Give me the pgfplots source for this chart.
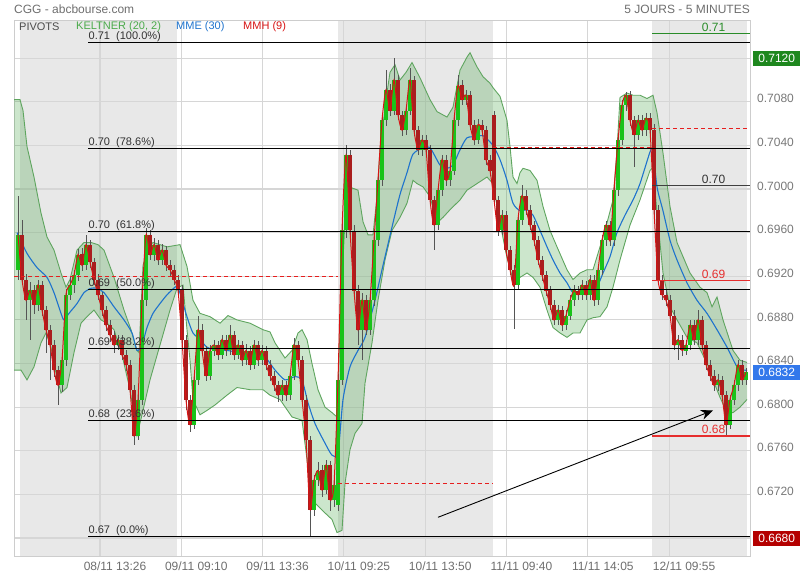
\documentclass[border=0pt]{standalone}
\usepackage{fontspec}
\setmainfont{Liberation Sans}
\usepackage{pgfplots}
\pgfplotsset{compat=1.18}
\usepackage{pgfplotstable}
\usepgfplotslibrary{fillbetween}
\usetikzlibrary{arrows.meta}

\definecolor{daygray}{RGB}{232,232,232}
\definecolor{gridgray}{RGB}{214,214,214}
\definecolor{framec}{RGB}{205,205,205}
\definecolor{kline}{RGB}{95,165,95}
\definecolor{kfill}{RGB}{40,150,40}
\definecolor{emablue}{RGB}{30,115,205}
\definecolor{mmhred}{RGB}{215,20,20}
\definecolor{upgreen}{RGB}{25,195,25}
\definecolor{downred}{RGB}{170,30,30}
\definecolor{wick}{RGB}{85,85,85}
\definecolor{pivred}{RGB}{230,30,30}
\definecolor{txtgray}{RGB}{110,110,110}
\definecolor{ticktxt}{RGB}{120,120,120}
\definecolor{legkel}{RGB}{75,170,75}
\definecolor{boxgreen}{RGB}{30,135,30}
\definecolor{boxblue}{RGB}{50,120,235}
\definecolor{boxred}{RGB}{180,0,0}
\definecolor{fibtxt}{RGB}{50,50,50}
\definecolor{lblgreen}{RGB}{40,140,40}
\definecolor{lblred}{RGB}{230,45,45}

% x = horizontal position of the 5-minute bar on the time axis
\pgfplotstableread{
x o h l c
18 0.6926 0.6994 0.6917 0.6958
22 0.6958 0.6972 0.6912 0.6917
26 0.6917 0.6922 0.6880 0.6898
30 0.6898 0.6915 0.6862 0.6907
34 0.6907 0.6912 0.6885 0.6894
38 0.6894 0.6917 0.6888 0.6912
42 0.6912 0.6916 0.6884 0.6889
46 0.6889 0.6893 0.6850 0.6871
50 0.6871 0.6875 0.6825 0.6857
54 0.6857 0.6862 0.6828 0.6834
58 0.6834 0.6838 0.6802 0.6820
62 0.6820 0.6848 0.6814 0.6843
66 0.6843 0.6908 0.6838 0.6903
70 0.6903 0.6920 0.6898 0.6912
74 0.6912 0.6926 0.6905 0.6921
78 0.6921 0.6945 0.6916 0.6940
82 0.6940 0.6946 0.6925 0.6930
86 0.6930 0.6958 0.6926 0.6949
90 0.6949 0.6953 0.6928 0.6933
94 0.6933 0.6937 0.6912 0.6917
98 0.6917 0.6922 0.6898 0.6903
102 0.6903 0.6906 0.6884 0.6889
106 0.6889 0.6893 0.6870 0.6875
110 0.6875 0.6880 0.6860 0.6866
114 0.6866 0.6870 0.6850 0.6857
118 0.6857 0.6866 0.6852 0.6862
122 0.6862 0.6866 0.6843 0.6848
126 0.6848 0.6852 0.6833 0.6839
130 0.6839 0.6843 0.6810 0.6816
134 0.6816 0.6820 0.6765 0.6774
138 0.6774 0.6812 0.6770 0.6807
142 0.6807 0.6903 0.6802 0.6898
146 0.6898 0.6964 0.6893 0.6958
150 0.6958 0.6962 0.6935 0.6940
154 0.6940 0.6955 0.6934 0.6949
158 0.6949 0.6953 0.6930 0.6935
162 0.6935 0.6950 0.6930 0.6944
166 0.6944 0.6948 0.6925 0.6930
170 0.6930 0.6935 0.6920 0.6926
174 0.6926 0.6930 0.6912 0.6917
178 0.6917 0.6921 0.6902 0.6907
182 0.6907 0.6912 0.6857 0.6862
186 0.6862 0.6866 0.6797 0.6807
190 0.6807 0.6811 0.6777 0.6784
194 0.6784 0.6830 0.6780 0.6825
198 0.6825 0.6884 0.6820 0.6871
202 0.6871 0.6876 0.6848 0.6852
206 0.6852 0.6856 0.6824 0.6829
210 0.6829 0.6857 0.6825 0.6852
214 0.6852 0.6862 0.6847 0.6857
218 0.6857 0.6861 0.6843 0.6848
222 0.6848 0.6866 0.6844 0.6862
226 0.6862 0.6866 0.6847 0.6852
230 0.6852 0.6875 0.6848 0.6866
234 0.6866 0.6870 0.6843 0.6848
238 0.6848 0.6862 0.6844 0.6857
242 0.6857 0.6861 0.6838 0.6843
246 0.6843 0.6858 0.6839 0.6852
250 0.6852 0.6856 0.6834 0.6839
254 0.6839 0.6862 0.6835 0.6857
258 0.6857 0.6861 0.6838 0.6843
262 0.6843 0.6857 0.6839 0.6852
266 0.6852 0.6856 0.6834 0.6839
270 0.6839 0.6843 0.6824 0.6829
274 0.6829 0.6833 0.6815 0.6820
278 0.6820 0.6824 0.6805 0.6811
282 0.6811 0.6825 0.6806 0.6820
286 0.6820 0.6824 0.6806 0.6811
290 0.6811 0.6834 0.6807 0.6829
294 0.6829 0.6863 0.6825 0.6857
298 0.6857 0.6861 0.6838 0.6843
302 0.6843 0.6847 0.6802 0.6807
306 0.6807 0.6811 0.6765 0.6770
310 0.6770 0.6774 0.6682 0.6706
314 0.6706 0.6738 0.6700 0.6733
318 0.6733 0.6750 0.6728 0.6742
322 0.6742 0.6747 0.6718 0.6724
326 0.6724 0.6752 0.6720 0.6747
330 0.6747 0.6751 0.6705 0.6715
334 0.6715 0.6735 0.6708 0.6729
338 0.6710 0.6830 0.6705 0.6825
342 0.6825 0.6975 0.6820 0.6962
346 0.6962 0.7040 0.6955 0.7031
350 0.7031 0.7036 0.6957 0.6962
354 0.6962 0.6967 0.6902 0.6907
358 0.6907 0.6912 0.6857 0.6871
362 0.6871 0.6905 0.6843 0.6898
366 0.6898 0.6903 0.6866 0.6871
370 0.6871 0.6905 0.6866 0.6898
374 0.6898 0.6958 0.6893 0.6953
378 0.6953 0.7013 0.6948 0.7008
382 0.7008 0.7068 0.7003 0.7063
386 0.7063 0.7109 0.7058 0.7091
390 0.7091 0.7096 0.7067 0.7072
394 0.7072 0.7120 0.7068 0.7100
398 0.7100 0.7105 0.7063 0.7068
402 0.7068 0.7072 0.7049 0.7054
406 0.7054 0.7077 0.7050 0.7072
410 0.7072 0.7111 0.7068 0.7100
414 0.7100 0.7104 0.7049 0.7054
418 0.7054 0.7058 0.7031 0.7036
422 0.7036 0.7050 0.7030 0.7045
426 0.7045 0.7050 0.7031 0.7036
430 0.7036 0.7040 0.6985 0.6990
434 0.6990 0.6994 0.6944 0.6967
438 0.6967 0.7004 0.6962 0.6999
442 0.6999 0.7031 0.6994 0.7027
446 0.7027 0.7031 0.7003 0.7008
450 0.7008 0.7022 0.7003 0.7017
454 0.7017 0.7068 0.7013 0.7063
458 0.7063 0.7105 0.7058 0.7095
462 0.7095 0.7100 0.7077 0.7082
466 0.7082 0.7091 0.7077 0.7086
470 0.7086 0.7090 0.7054 0.7059
474 0.7059 0.7063 0.7040 0.7045
478 0.7045 0.7064 0.7041 0.7059
482 0.7059 0.7063 0.7049 0.7054
486 0.7054 0.7058 0.7022 0.7027
490 0.7027 0.7031 0.7012 0.7017
494 0.7068 0.7072 0.6985 0.6990
498 0.6990 0.6994 0.6957 0.6962
502 0.6962 0.6981 0.6958 0.6976
506 0.6976 0.6980 0.6939 0.6944
510 0.6944 0.6948 0.6921 0.6926
514 0.6926 0.6930 0.6872 0.6912
518 0.6912 0.6976 0.6907 0.6972
522 0.6972 0.7004 0.6967 0.6994
526 0.6994 0.6999 0.6976 0.6981
530 0.6981 0.6985 0.6962 0.6967
534 0.6967 0.6971 0.6948 0.6953
538 0.6953 0.6957 0.6930 0.6935
542 0.6935 0.6939 0.6916 0.6921
546 0.6921 0.6925 0.6902 0.6907
550 0.6907 0.6911 0.6889 0.6894
554 0.6894 0.6898 0.6875 0.6880
558 0.6880 0.6894 0.6875 0.6889
562 0.6889 0.6893 0.6870 0.6875
566 0.6875 0.6889 0.6871 0.6884
570 0.6884 0.6903 0.6880 0.6898
574 0.6898 0.6912 0.6893 0.6907
578 0.6907 0.6911 0.6898 0.6903
582 0.6903 0.6917 0.6898 0.6912
586 0.6912 0.6916 0.6898 0.6903
590 0.6903 0.6921 0.6898 0.6917
594 0.6917 0.6921 0.6893 0.6898
598 0.6898 0.6930 0.6894 0.6926
602 0.6926 0.6958 0.6921 0.6953
606 0.6953 0.6971 0.6948 0.6967
610 0.6967 0.6971 0.6948 0.6953
614 0.6953 0.7004 0.6948 0.6999
618 0.6999 0.7050 0.6994 0.7045
622 0.7045 0.7082 0.7040 0.7077
626 0.7077 0.7089 0.7072 0.7086
630 0.7086 0.7090 0.7058 0.7063
634 0.7063 0.7067 0.7020 0.7050
638 0.7050 0.7068 0.7045 0.7063
642 0.7063 0.7068 0.7049 0.7054
646 0.7054 0.7070 0.7049 0.7065
650 0.7065 0.7070 0.7049 0.7054
654 0.7054 0.7060 0.6976 0.6981
658 0.6981 0.6985 0.6912 0.6917
662 0.6917 0.6921 0.6898 0.6903
666 0.6903 0.6907 0.6893 0.6898
670 0.6898 0.6903 0.6880 0.6884
674 0.6884 0.6889 0.6852 0.6857
678 0.6857 0.6866 0.6843 0.6862
682 0.6862 0.6866 0.6847 0.6852
686 0.6852 0.6862 0.6848 0.6857
690 0.6857 0.6880 0.6852 0.6875
694 0.6875 0.6880 0.6857 0.6862
698 0.6862 0.6889 0.6857 0.6880
702 0.6880 0.6884 0.6852 0.6857
706 0.6857 0.6861 0.6834 0.6839
710 0.6839 0.6843 0.6824 0.6829
714 0.6829 0.6834 0.6815 0.6820
718 0.6820 0.6830 0.6815 0.6825
722 0.6825 0.6829 0.6806 0.6811
726 0.6811 0.6815 0.6773 0.6784
730 0.6784 0.6811 0.6780 0.6807
734 0.6807 0.6825 0.6802 0.6820
738 0.6820 0.6843 0.6815 0.6839
742 0.6839 0.6843 0.6820 0.6825
746 0.6825 0.6836 0.6820 0.6832
}\candles

\pgfplotstableread{
x y
14 0.7082
20 0.7082
23 0.7072
27 0.7039
34 0.7011
41 0.6978
47 0.6956
54 0.6944
61 0.6923
66 0.6910
70 0.6917
77 0.6944
84 0.6951
91 0.6951
98 0.6949
104 0.6944
114 0.6919
124 0.6889
131 0.6871
137 0.6852
139 0.6850
143 0.6930
148 0.6946
153 0.6951
167 0.6947
180 0.6949
187 0.6929
193 0.6898
200 0.6886
210 0.6883
220 0.6877
228 0.6884
237 0.6880
250 0.6877
263 0.6871
270 0.6869
275 0.6859
285 0.6845
292 0.6852
298 0.6868
302 0.6871
307 0.6862
312 0.6840
318 0.6816
325 0.6800
332 0.6795
337 0.6791
341 0.6898
346 0.6990
352 0.7001
358 0.6999
363 0.6970
368 0.6958
373 0.6958
377 0.6993
380 0.7036
386 0.7082
390 0.7107
395 0.7114
400 0.7100
406 0.7107
412 0.7116
420 0.7102
430 0.7082
437 0.7071
447 0.7066
453 0.7075
460 0.7109
467 0.7121
470 0.7125
477 0.7112
483 0.7103
490 0.7097
493 0.7093
500 0.7085
507 0.7063
510 0.7039
513 0.7011
517 0.7005
520 0.7015
523 0.7019
530 0.7017
537 0.7008
543 0.6984
550 0.6962
557 0.6947
567 0.6926
573 0.6917
580 0.6923
587 0.6926
593 0.6926
600 0.6947
607 0.6969
613 0.6990
617 0.7036
620 0.7084
627 0.7088
633 0.7086
640 0.7086
647 0.7083
653 0.7086
657 0.7070
663 0.7033
670 0.6984
677 0.6951
683 0.6938
690 0.6923
700 0.6910
707 0.6905
712 0.6892
717 0.6901
723 0.6880
733 0.6852
740 0.6843
747 0.6841
}\kup

\pgfplotstableread{
x y
14 0.6834
21 0.6834
27 0.6825
34 0.6837
41 0.6859
46 0.6868
51 0.6855
56 0.6831
61 0.6813
67 0.6818
74 0.6850
81 0.6877
87 0.6883
94 0.6889
101 0.6880
107 0.6877
114 0.6871
122 0.6848
130 0.6816
137 0.6774
142 0.6793
150 0.6825
160 0.6857
170 0.6889
177 0.6909
183 0.6912
187 0.6871
190 0.6843
193 0.6807
200 0.6793
207 0.6797
215 0.6802
227 0.6811
237 0.6818
250 0.6816
263 0.6816
270 0.6811
280 0.6807
292 0.6791
302 0.6788
308 0.6745
315 0.6712
325 0.6703
332 0.6697
337 0.6685
342 0.6687
345 0.6730
350 0.6761
355 0.6776
362 0.6785
365 0.6822
372 0.6859
378 0.6898
385 0.6935
392 0.6962
400 0.6974
407 0.6987
413 0.7008
417 0.7005
423 0.7002
430 0.6993
437 0.6969
443 0.6974
450 0.6981
460 0.6990
467 0.6999
477 0.7005
487 0.7011
493 0.7005
500 0.6969
507 0.6937
513 0.6917
520 0.6919
527 0.6923
533 0.6919
540 0.6910
547 0.6889
553 0.6873
560 0.6868
567 0.6864
573 0.6868
580 0.6868
587 0.6880
593 0.6882
600 0.6883
607 0.6892
613 0.6910
620 0.6935
630 0.6967
640 0.6990
650 0.7017
653 0.7020
657 0.6978
663 0.6923
670 0.6892
677 0.6880
687 0.6864
697 0.6859
707 0.6840
713 0.6825
720 0.6809
727 0.6795
733 0.6795
740 0.6800
747 0.6807
}\klo

\pgfplotstableread{
x y
17 0.6960
27 0.6941
37 0.6928
47 0.6919
54 0.6905
61 0.6886
64 0.6880
69 0.6886
77 0.6895
84 0.6905
91 0.6909
97 0.6909
104 0.6905
114 0.6892
124 0.6880
132 0.6868
137 0.6852
142 0.6857
147 0.6873
153 0.6886
160 0.6895
167 0.6903
175 0.6910
178 0.6910
183 0.6895
188 0.6880
193 0.6868
200 0.6862
207 0.6855
217 0.6852
227 0.6852
240 0.6850
253 0.6850
265 0.6846
275 0.6834
285 0.6825
295 0.6828
302 0.6825
308 0.6804
315 0.6785
325 0.6767
332 0.6756
338 0.6758
343 0.6807
350 0.6837
358 0.6852
365 0.6864
375 0.6898
382 0.6926
393 0.6969
400 0.6995
407 0.7015
413 0.7032
423 0.7038
430 0.7038
440 0.7022
447 0.7019
453 0.7022
460 0.7036
467 0.7047
477 0.7048
483 0.7049
493 0.7040
500 0.7027
507 0.7008
513 0.6987
520 0.6980
527 0.6981
533 0.6976
540 0.6962
547 0.6947
553 0.6935
560 0.6923
567 0.6914
573 0.6905
583 0.6905
590 0.6906
597 0.6910
603 0.6923
610 0.6938
617 0.6960
625 0.6976
633 0.6990
640 0.7005
650 0.7034
653 0.7036
657 0.7002
663 0.6980
670 0.6953
677 0.6935
687 0.6914
697 0.6898
707 0.6886
717 0.6871
727 0.6855
737 0.6837
743 0.6834
747 0.6834
}\ema

\begin{document}
\begin{tikzpicture}
\begin{axis}[
  set layers,
  at={(14pt,23pt)}, anchor=south west,
  scale only axis, width=736pt, height=536pt,
  xmin=14, xmax=750, ymin=0.66626, ymax=0.71541,
  clip=false,
  axis line style={draw=framec, line width=1pt},
  grid=major, major grid style={draw=gridgray, line width=1.1pt},
  tick style={draw=none},
  xtick={100,181.3,262.6,343.9,425.2,506.5,587.8,669.1},
  xticklabels={08/11 13:26,09/11 09:10,09/11 13:36,10/11 09:25,10/11 13:50,11/11 09:40,11/11 14:05,12/11 09:55},
  xticklabel style={anchor=north, inner sep=0pt, yshift=-5pt, xshift=15pt, text=txtgray, font=\fontsize{12}{14}\selectfont},
  ytick={0.668,0.672,0.676,0.680,0.684,0.688,0.692,0.696,0.700,0.704,0.708,0.712},
  yticklabels={{},0.6720,0.6760,0.6800,0.6840,0.6880,0.6920,0.6960,0.7000,0.7040,0.7080,{}},
  yticklabel pos=right,
  scaled y ticks=false,
  yticklabel style={anchor=west, inner sep=0pt, xshift=7pt, yshift=3pt, text=ticktxt, font=\fontsize{12}{14}\selectfont},
]
\begin{pgfonlayer}{axis background}
\fill[daygray] (axis cs:20,0.66626) rectangle (axis cs:177,0.71541);
\fill[daygray] (axis cs:338,0.66626) rectangle (axis cs:493,0.71541);
\fill[daygray] (axis cs:652,0.66626) rectangle (axis cs:747,0.71541);
\end{pgfonlayer}

% Keltner channel
\addplot[name path=kup, draw=kline, line width=0.9pt] table[x=x,y=y] {\kup};
\addplot[name path=klo, draw=kline, line width=0.9pt] table[x=x,y=y] {\klo};
\addplot[fill=kfill, fill opacity=0.235, draw=none] fill between[of=kup and klo];

% EMA 30
\addplot[emablue, line width=1.1pt, smooth, tension=0.4] table[x=x,y=y] {\ema};

% wicks
\addplot[draw=none, mark=none, forget plot,
  error bars/.cd, y dir=both, y explicit, error mark=none,
  error bar style={line width=0.8pt, draw=wick}]
  table[x=x, y=c, y error plus expr=\thisrow{h}-\thisrow{c}, y error minus expr=\thisrow{c}-\thisrow{l}] {\candles};
% bodies up
\addplot[draw=none, mark=none, forget plot,
  restrict expr to domain={\thisrow{c}-\thisrow{o}}{0:1},
  error bars/.cd, y dir=both, y explicit, error mark=none,
  error bar style={line width=3.2pt, draw=upgreen}]
  table[x=x, y expr=(\thisrow{o}+\thisrow{c})/2, y error expr=abs(\thisrow{c}-\thisrow{o})/2] {\candles};
% bodies down
\addplot[draw=none, mark=none, forget plot,
  restrict expr to domain={\thisrow{c}-\thisrow{o}}{-1:-0.000001},
  error bars/.cd, y dir=both, y explicit, error mark=none,
  error bar style={line width=3.2pt, draw=downred}]
  table[x=x, y expr=(\thisrow{o}+\thisrow{c})/2, y error expr=abs(\thisrow{c}-\thisrow{o})/2] {\candles};

% MMH 9
\addplot[mmhred, line width=1pt, smooth, tension=0.4] table[x=x,y=c] {\candles};

% pivot levels
\addplot[pivred, line width=0.9pt, dash pattern=on 4pt off 3pt] coordinates {(14,0.6920) (338,0.6920)};
\addplot[pivred, line width=0.9pt, dash pattern=on 4pt off 3pt] coordinates {(338,0.6730) (493,0.6730)};
\addplot[pivred, line width=0.9pt, dash pattern=on 4pt off 3pt] coordinates {(493,0.7038) (652,0.7038)};
\addplot[pivred, line width=0.9pt, dash pattern=on 4pt off 3pt] coordinates {(652,0.7056) (748,0.7056)};

% Fibonacci retracements
\addplot[black, line width=1pt] coordinates {(88,0.71341) (750,0.71341)};
\addplot[black, line width=1pt] coordinates {(88,0.70372) (750,0.70372)};
\addplot[black, line width=1pt] coordinates {(88,0.69611) (750,0.69611)};
\addplot[black, line width=1pt] coordinates {(88,0.69077) (750,0.69077)};
\addplot[black, line width=1pt] coordinates {(88,0.68542) (750,0.68542)};
\addplot[black, line width=1pt] coordinates {(88,0.67881) (750,0.67881)};
\addplot[black, line width=1pt] coordinates {(88,0.66812) (750,0.66812)};

\begin{scope}[every node/.style={anchor=south west, inner sep=0.5pt, text=fibtxt, font=\fontsize{11}{13}\selectfont}]
\node at (axis cs:88,0.71341) {0.71~~(100.0\%)};
\node at (axis cs:88,0.70372) {0.70~~(78.6\%)};
\node at (axis cs:88,0.69611) {0.70~~(61.8\%)};
\node at (axis cs:88,0.69077) {0.69~~(50.0\%)};
\node at (axis cs:88,0.68542) {0.69~~(38.2\%)};
\node at (axis cs:88,0.67881) {0.68~~(23.6\%)};
\node at (axis cs:88,0.66812) {0.67~~(0.0\%)};
\end{scope}

% daily levels on the right
\addplot[lblgreen, line width=1pt] coordinates {(652,0.7143) (750,0.7143)};
\addplot[black!75, line width=1pt] coordinates {(652,0.7003) (750,0.7003)};
\addplot[lblred, line width=1pt] coordinates {(652,0.6916) (750,0.6916)};
\addplot[lblred, line width=2pt] coordinates {(652,0.6774) (750,0.6774)};
\begin{scope}[every node/.style={anchor=south east, inner sep=1.5pt, font=\fontsize{12}{14}\selectfont}]
\node[text=lblgreen] at (axis cs:727,0.7143) {0.71};
\node[text=black!80] at (axis cs:727,0.7003) {0.70};
\node[text=lblred] at (axis cs:727,0.6916) {0.69};
\node[text=lblred] at (axis cs:727,0.6774) {0.68};
\end{scope}

% trend arrow
\addplot[black, line width=0.9pt, -{Stealth[length=12pt,width=10pt]}] coordinates {(438,0.6699) (713,0.6797)};

% value boxes on the price scale
\begin{scope}[every node/.style={anchor=west, text=white, minimum width=47pt, minimum height=15pt, inner sep=0pt, font=\fontsize{12}{14}\selectfont}]
\node[fill=boxgreen] at (axis cs:753,0.7120) {0.7120};
\node[fill=boxblue] at (axis cs:753,0.6832) {0.6832};
\node[fill=boxred] at (axis cs:753,0.6680) {0.6680};
\end{scope}
\end{axis}

% title line
\node[anchor=west, text=txtgray, font=\fontsize{12}{14}\selectfont, inner sep=0pt] at (14pt,571pt) {CGG - abcbourse.com};
\node[anchor=east, text=txtgray, font=\fontsize{12}{14}\selectfont, inner sep=0pt] at (750pt,571pt) {5 JOURS - 5 MINUTES};
% indicator legend
\begin{scope}[every node/.style={anchor=west, inner sep=0pt, font=\fontsize{11}{13}\selectfont}]
\node[text=black!70] at (19pt,553.5pt) {PIVOTS};
\node[text=legkel] at (76pt,553.5pt) {KELTNER (20, 2)};
\node[text=emablue] at (176pt,553.5pt) {MME (30)};
\node[text=mmhred] at (243pt,553.5pt) {MMH (9)};
\end{scope}
\pgfresetboundingbox
\useasboundingbox (0,0) rectangle (800pt,580pt);
\end{tikzpicture}
\end{document}
